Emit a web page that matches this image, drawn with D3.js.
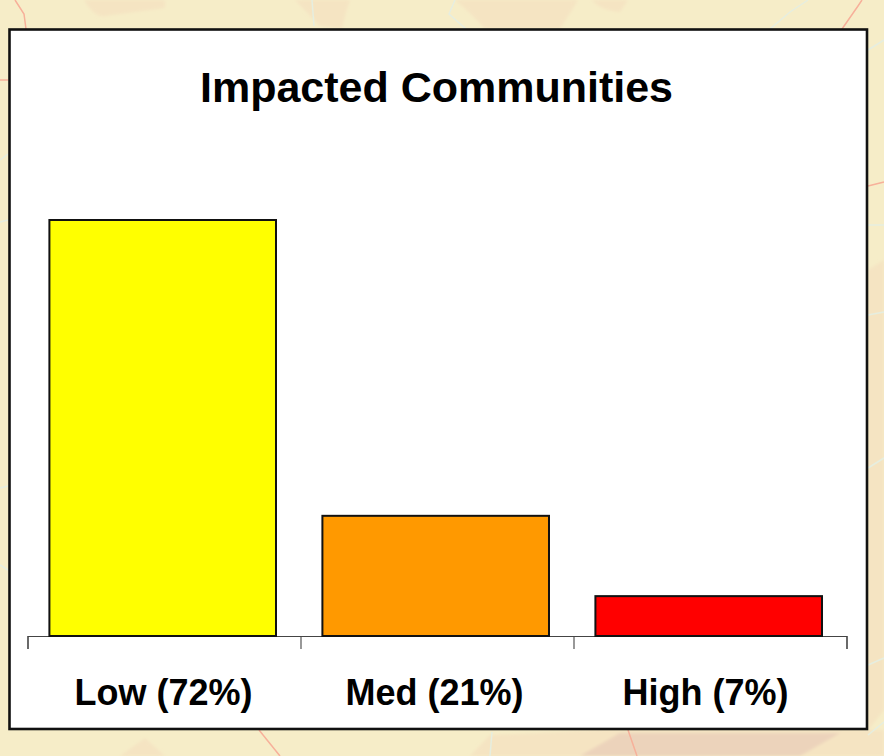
<!DOCTYPE html>
<html>
<head>
<meta charset="utf-8">
<script src="https://cdn.jsdelivr.net/npm/d3@7"></script>
<style>
  html, body { margin: 0; padding: 0; background: #f6edc8; }
  svg { display: block; }
  text { font-family: "Liberation Sans", Arial, sans-serif; font-weight: bold; fill: #000; }
</style>
</head>
<body>
<svg width="884" height="756"></svg>
<script>
const title = 'Impacted Communities';
const categories = ['Low (72%)', 'Med (21%)', 'High (7%)'];
const values = [72, 20.8, 6.9];   // bar heights
const colors = ['#ffff00', '#ff9900', '#ff0000'];

// map showing behind the panel, only the margins are visible
const mapBlobs = [
  'M84,0 Q95,18 105,16 L165,8 Q165,0 165,0 Z',
  'M295,0 L320,26 L342,29 L346,12 L350,0 Z',
  'M455,0 Q470,12 485,29 L560,29 L572,10 L578,0 Z',
  'M592,0 Q600,10 620,12 L628,0 Z',
  'M470,756 L490,735 L600,730 L884,730 L884,756 Z',
  'M120,756 L145,738 L165,756 Z',
  'M868,270 L884,260 L884,710 L868,730 Z'
];
const mapDark = [
  'M580,756 L620,733 L840,733 L800,756 Z',
  'M640,750 L680,733 L760,733 L750,756 Z'
];
const mapRoads = [
  'M15,0 L24,14 L26,29',
  'M0,80 L8,80',
  'M259,730 L280,756',
  'M628,730 L637,756',
  'M842,29 L858,6 L862,0',
  'M868,186 L884,182'
];
const mapRivers = [
  'M312,0 L314,26',
  'M455,0 L449,14 L466,29',
  'M770,29 L790,12 L808,0',
  'M868,50 L884,40',
  'M868,225 L884,225',
  'M868,315 L884,312',
  'M868,468 L884,458',
  'M868,665 L884,658',
  'M868,735 L884,722',
  'M0,160 L8,154',
  'M0,222 L8,220',
  'M0,488 L8,486',
  'M0,565 L8,570',
  'M492,732 L490,756'
];

const svg = d3.select('svg');
const width = +svg.attr('width');
const height = +svg.attr('height');

svg.append('filter').attr('id', 'soft')
  .append('feGaussianBlur').attr('stdDeviation', 1.6);
svg.append('filter').attr('id', 'line-soft')
  .append('feGaussianBlur').attr('stdDeviation', 0.4);

const bg = svg.append('g');
const fills = bg.append('g').attr('filter', 'url(#soft)');
fills.selectAll('path.blob').data(mapBlobs).enter().append('path')
  .attr('class', 'blob').attr('d', d => d).attr('fill', '#f5e4c2');
fills.selectAll('path.dark').data(mapDark).enter().append('path')
  .attr('class', 'dark').attr('d', d => d).attr('fill', '#ecd3bb');
const lines = bg.append('g').attr('filter', 'url(#line-soft)');
lines.selectAll('path.road').data(mapRoads).enter().append('path')
  .attr('class', 'road').attr('d', d => d)
  .attr('fill', 'none').attr('stroke', '#f7b09a').attr('stroke-width', 1.5);
lines.selectAll('path.river').data(mapRivers).enter().append('path')
  .attr('class', 'river').attr('d', d => d)
  .attr('fill', 'none').attr('stroke', '#e6eee0').attr('stroke-width', 1.5);

// white panel
svg.append('rect')
  .attr('x', 9.5).attr('y', 29.5)
  .attr('width', 857.5).attr('height', 699.5)
  .attr('fill', '#fff').attr('stroke', '#111').attr('stroke-width', 2.6);

const baseline = 636;
const x = d3.scaleBand()
  .domain(categories)
  .range([26.2, 845.2])
  .paddingInner(0.17)
  .paddingOuter(0.085);
const y = d3.scaleLinear().domain([0, 72]).range([baseline, 220]);

// axis: ticks sit on the band edges, not the centres
const edges = d3.scaleLinear().domain([0, categories.length]).range([27.5, 846.5]);
svg.append('g')
  .attr('transform', `translate(0,${baseline})`)
  .call(d3.axisBottom(edges).tickValues(d3.range(categories.length + 1)).tickSize(13).tickFormat(''))
  .call(g => g.selectAll('path, line').attr('stroke', '#444').attr('stroke-width', 1.1));

// bars
svg.selectAll('rect.bar')
  .data(values)
  .enter()
  .append('rect')
  .attr('class', 'bar')
  .attr('x', (d, i) => x(categories[i]))
  .attr('y', d => y(d))
  .attr('width', x.bandwidth())
  .attr('height', d => y(0) - y(d))
  .attr('fill', (d, i) => colors[i])
  .attr('stroke', '#111')
  .attr('stroke-width', 2);

// labels are not quite centred under the bars in the picture
const labelX = d3.scalePoint().domain(categories).range([163, 705]);
const labels = svg.append('g')
  .attr('transform', `translate(0,${baseline})`)
  .call(d3.axisBottom(labelX).tickSize(0).tickPadding(43.5));
labels.select('.domain').remove();
labels.selectAll('text')
  .style('font-family', '"Liberation Sans", Arial, sans-serif')
  .style('font-weight', 'bold')
  .style('font-size', '36px')
  .attr('fill', '#000');

svg.append('text')
  .attr('x', 436.5)
  .attr('y', 101.5)
  .attr('text-anchor', 'middle')
  .style('font-size', '43px')
  .text(title);
</script>
</body>
</html>
